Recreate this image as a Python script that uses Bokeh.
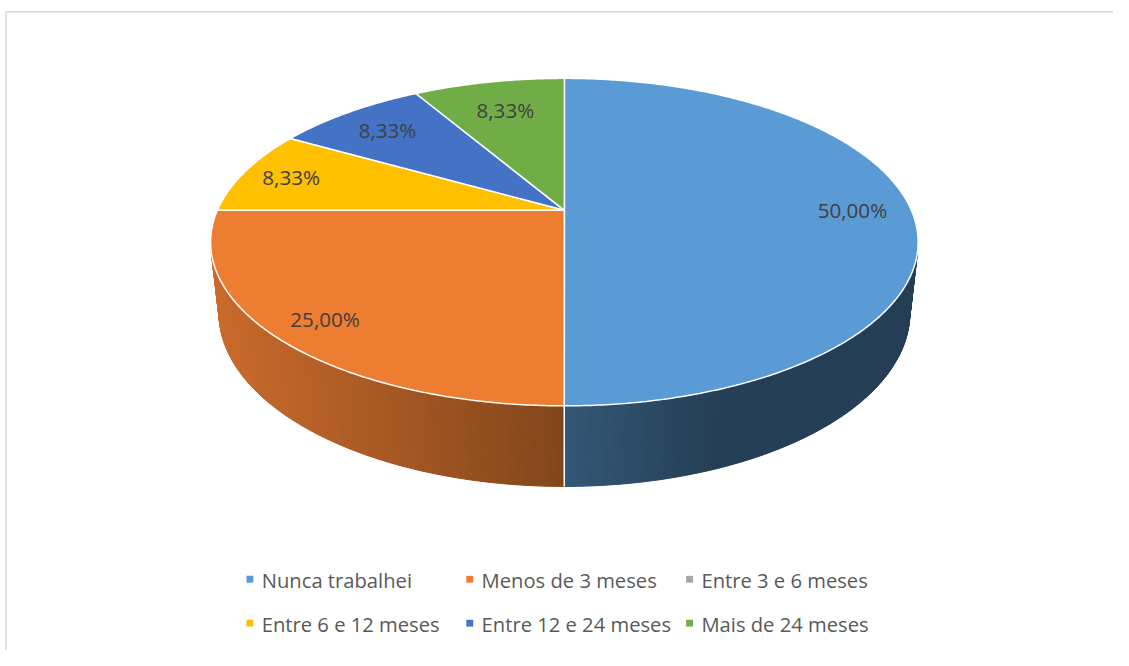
import numpy as np
from bokeh.plotting import figure
from bokeh.models import Range1d
from bokeh.embed import file_html
from bokeh.resources import INLINE
from bokeh.core.properties import value

# ---------------- data ----------------
categories = ["Nunca trabalhei", "Menos de 3 meses", "Entre 3 e 6 meses",
              "Entre 6 e 12 meses", "Entre 12 e 24 meses", "Mais de 24 meses"]
percentages = [50.00, 25.00, 0.00, 8.33, 8.33, 8.33]
colors = ["#5B9BD5", "#ED7D31", "#A5A5A5", "#FFC000", "#4472C4", "#70AD47"]
# side (wall) shading of each slice: light end, dark end
side_light = ["#335777", "#CB6B2C", "#8A8A8A", "#D9A300", "#3A62A8", "#5E933C"]
side_dark = ["#243E55", "#82451A", "#5A5A5A", "#8F6B00", "#253F6E", "#3E6127"]

# ---------------- geometry (3-D pie with perspective) ----------------
ALPHA = np.radians(27.3)
CA, SA = np.cos(ALPHA), np.sin(ALPHA)
DIST = 4.582
K = 1613.0
CX, CY = 572.0, 215.0
THICK = 0.234


def proj(phi_deg, r=1.0, y=0.0):
    ph = np.radians(np.asarray(phi_deg, dtype=float))
    X = r * np.sin(ph)
    Z = r * np.cos(ph)
    yc = y * CA + Z * SA
    zc = -y * SA + Z * CA + DIST
    return CX + K * X / zc, CY - K * yc / zc


W, Hh = 1113, 650
p = figure(width=W, height=Hh, output_backend="svg", toolbar_location=None,
           x_range=Range1d(0, 1129), y_range=Range1d(666, 0),
           min_border=0, background_fill_color="white", border_fill_color="white")
p.axis.visible = False
p.grid.visible = False
p.outline_line_color = None

# chart frame (top and left edges)
p.segment(x0=[5.5, 5.5], y0=[11.5, 11.5], x1=[1129, 5.5], y1=[11.5, 666],
          line_color="#D9D9D9", line_width=1.5)

total = float(sum(percentages))
bounds = np.concatenate([[0.0], np.cumsum(percentages) / total * 360.0])

# visible part of the cylinder wall
vis = np.degrees(np.arccos(-1.0 / (DIST * CA)))
vis0, vis1 = vis, 360.0 - vis


def hex2rgb(h):
    h = h.lstrip("#")
    return np.array([int(h[i:i + 2], 16) for i in (0, 2, 4)], dtype=float)


def rgb2hex(c):
    return "#%02x%02x%02x" % tuple(int(round(v)) for v in c)


ramps = [0.43, 1.0, 1.0, 1.0, 1.0, 1.0]

sx, sy, sc = [], [], []
for i, v in enumerate(percentages):
    a0, a1 = bounds[i], bounds[i + 1]
    lo, hi = max(a0, vis0), min(a1, vis1)
    if v <= 0 or lo >= hi:
        continue
    n = max(2, int((hi - lo) / 0.5))
    ph = np.linspace(lo, hi, n + 1)
    tx, ty = proj(ph)
    bx, by = proj(ph, y=-THICK)
    x_l, x_r = min(tx.min(), bx.min()), max(tx.max(), bx.max())
    L, Dk = hex2rgb(side_light[i]), hex2rgb(side_dark[i])
    for j in range(n):
        xm = 0.25 * (tx[j] + tx[j + 1] + bx[j] + bx[j + 1])
        t = (xm - x_l) / (x_r - x_l) / ramps[i]
        t = min(max(t, 0.0), 1.0)
        col = rgb2hex(L + (Dk - L) * t)
        sx.append([tx[j], tx[j + 1], bx[j + 1], bx[j]])
        sy.append([ty[j], ty[j + 1], by[j + 1], by[j]])
        sc.append(col)
p.patches(sx, sy, fill_color=sc, line_color=sc, line_width=1)

# white edges of the wall at slice boundaries that are visible
ex0, ey0, ex1, ey1 = [], [], [], []
for b in bounds[1:-1]:
    if vis0 < b < vis1:
        x0, y0 = proj(b)
        x1, y1 = proj(b, y=-THICK)
        ex0.append(float(x0)); ey0.append(float(y0)); ex1.append(float(x1)); ey1.append(float(y1))
p.segment(x0=ex0, y0=ey0, x1=ex1, y1=ey1, line_color="white", line_width=1.5)

# top face of the slices
txs, tys, tcs = [], [], []
for i, v in enumerate(percentages):
    if v <= 0:
        continue
    a0, a1 = bounds[i], bounds[i + 1]
    ph = np.linspace(a0, a1, max(8, int(a1 - a0) * 2))
    ax, ay = proj(ph)
    txs.append([CX] + list(ax))
    tys.append([CY] + list(ay))
    tcs.append(colors[i])
p.patches(txs, tys, fill_color=tcs, line_color="white", line_width=1.5)

# data labels
label_r = [0.83, 0.86, 0.8, 0.85, 0.8, 0.75]
lx, ly, lt = [], [], []
for i, v in enumerate(percentages):
    if v <= 0:
        continue
    mid = 0.5 * (bounds[i] + bounds[i + 1])
    x, y = proj(mid, r=label_r[i])
    lx.append(float(x)); ly.append(float(y))
    lt.append(("%.2f" % v).replace(".", ",") + "%")
p.text(x=lx, y=ly, text=lt, text_font=value("Open Sans"), text_font_size="20.6px",
       text_color="#404040", text_align="center", text_baseline="middle")

# legend (3 columns x 2 rows)
col_x = [253, 476, 699]
row_y = [593, 638]
mx = [col_x[i % 3] for i in range(len(categories))]
my = [row_y[i // 3] for i in range(len(categories))]
p.rect(x=mx, y=my, width=7, height=7, fill_color=colors, line_color=None)
p.text(x=[m + 12 for m in mx], y=[m + 1 for m in my], text=categories,
       text_font=value("Open Sans"), text_font_size="20.2px", text_color="#595959",
       text_align="left", text_baseline="middle")

open("out.html", "w").write(file_html(p, INLINE))
